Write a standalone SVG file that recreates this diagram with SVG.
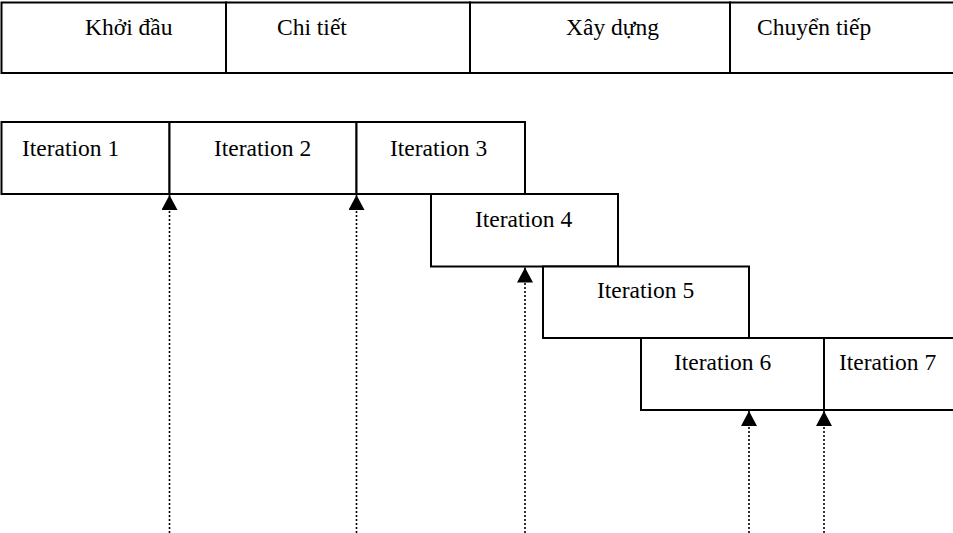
<svg xmlns="http://www.w3.org/2000/svg" width="953" height="533" viewBox="0 0 953 533">
  <defs>
    <style>
      .box { fill: #ffffff; stroke: #000000; stroke-width: 2; }
      .lbl { font-family: "Liberation Serif", "Times New Roman", serif; font-size: 23.5px; fill: #000000; }
      .dot { stroke: #000000; stroke-width: 1.6; stroke-dasharray: 2 2; fill: none; }
    </style>
    <marker id="head" markerUnits="userSpaceOnUse" markerWidth="16" markerHeight="16" refX="15" refY="8" orient="auto">
      <path d="M0,0 L15,8 L0,16 Z" fill="#000000"/>
    </marker>
  </defs>
  <rect width="953" height="533" fill="#ffffff"/>

  <!-- Phase header row -->
  <g id="phase-inception">
    <rect class="box" x="1.5" y="2.5" width="224.5" height="70.5"/>
    <text class="lbl" x="85" y="35">Khởi đầu</text>
  </g>
  <g id="phase-elaboration">
    <rect class="box" x="226" y="2.5" width="244" height="70.5"/>
    <text class="lbl" x="277" y="35">Chi tiết</text>
  </g>
  <g id="phase-construction">
    <rect class="box" x="470" y="2.5" width="260" height="70.5"/>
    <text class="lbl" x="566" y="35">Xây dựng</text>
  </g>
  <g id="phase-transition">
    <rect class="box" x="730" y="2.5" width="230" height="70.5"/>
    <text class="lbl" x="757" y="35">Chuyển tiếp</text>
  </g>

  <!-- Iterations -->
  <g id="iteration-1">
    <rect class="box" x="1.5" y="122" width="168" height="72"/>
    <text class="lbl" x="22" y="156">Iteration 1</text>
  </g>
  <g id="iteration-2">
    <rect class="box" x="169.5" y="122" width="187" height="72"/>
    <text class="lbl" x="214" y="156">Iteration 2</text>
  </g>
  <g id="iteration-3">
    <rect class="box" x="356.5" y="122" width="168.5" height="72"/>
    <text class="lbl" x="390" y="156">Iteration 3</text>
  </g>
  <g id="iteration-4">
    <rect class="box" x="431" y="194" width="187" height="72.5"/>
    <text class="lbl" x="475" y="227">Iteration 4</text>
  </g>
  <g id="iteration-5">
    <rect class="box" x="543" y="266.5" width="206" height="71.5"/>
    <text class="lbl" x="597" y="298">Iteration 5</text>
  </g>
  <g id="iteration-6">
    <rect class="box" x="641" y="338" width="183" height="72"/>
    <text class="lbl" x="674" y="370">Iteration 6</text>
  </g>
  <g id="iteration-7">
    <rect class="box" x="824" y="338" width="140" height="72"/>
    <text class="lbl" x="839" y="370">Iteration 7</text>
  </g>

  <!-- Release milestones: dotted arrows up to iteration ends -->
  <g id="connectors">
    <line class="dot" x1="169.5" y1="533" x2="169.5" y2="195" marker-end="url(#head)"/>
    <line class="dot" x1="356.5" y1="533" x2="356.5" y2="195" marker-end="url(#head)"/>
    <line class="dot" x1="525" y1="533" x2="525" y2="267.5" marker-end="url(#head)"/>
    <line class="dot" x1="749" y1="533" x2="749" y2="411" marker-end="url(#head)"/>
    <line class="dot" x1="824" y1="533" x2="824" y2="411" marker-end="url(#head)"/>
  </g>
</svg>
